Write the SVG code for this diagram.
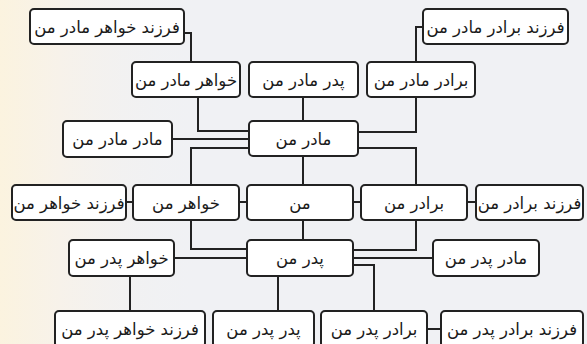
<svg xmlns="http://www.w3.org/2000/svg" width="587" height="344" viewBox="0 0 587 344">
<defs>
<linearGradient id="bgL" x1="0" y1="0" x2="1" y2="0">
<stop offset="0" stop-color="#fbf3df"/>
<stop offset="0.3" stop-color="#f7f2ea"/>
<stop offset="1" stop-color="#f0f1f4" stop-opacity="0"/>
</linearGradient>
<style>
.box{fill:#ffffff;stroke:#222222;stroke-width:2}
.lbl{font-family:"DejaVu Sans",sans-serif;font-size:16.5px;fill:#1a1a1a;text-anchor:middle}
.con{fill:none;stroke:#222222;stroke-width:2}
</style>
</defs>
<rect x="0" y="0" width="587" height="344" fill="#f0f1f4"/>
<rect x="0" y="0" width="200" height="344" fill="url(#bgL)"/>
<g id="connectors">
<path class="con" d="M184,33 H191 V62"/>
<path class="con" d="M198,97 V131 H249"/>
<path class="con" d="M303,97 V121"/>
<path class="con" d="M423,27 H416 V62"/>
<path class="con" d="M416,97 V132 H358"/>
<path class="con" d="M172,139 H249"/>
<path class="con" d="M249,148 H191 V185"/>
<path class="con" d="M358,148 H416 V185"/>
<path class="con" d="M303,156 V185"/>
<path class="con" d="M126,202 H133"/>
<path class="con" d="M239,202 H247"/>
<path class="con" d="M353,202 H361"/>
<path class="con" d="M467,202 H476"/>
<path class="con" d="M191,220 V249 H247"/>
<path class="con" d="M416,220 V250 H353"/>
<path class="con" d="M303,220 V240"/>
<path class="con" d="M174,258 H247"/>
<path class="con" d="M353,258 H433"/>
<path class="con" d="M353,265 H374 V311"/>
<path class="con" d="M130,276 V311"/>
<path class="con" d="M278,276 V311"/>
<path class="con" d="M427,329 H441"/>
</g>
<g id="n_fkhm"><rect class="box" x="30" y="9" width="154" height="35" rx="4"/><text class="lbl" x="107" y="32.5">فرزند خواهر مادر من</text></g>
<g id="n_fbm"><rect class="box" x="423" y="9" width="145" height="35" rx="4"/><text class="lbl" x="495.5" y="32.5">فرزند برادر مادر من</text></g>
<g id="n_khm"><rect class="box" x="132" y="62" width="108" height="35" rx="4"/><text class="lbl" x="186" y="85.5">خواهر مادر من</text></g>
<g id="n_pm"><rect class="box" x="249" y="62" width="109" height="35" rx="4"/><text class="lbl" x="303.5" y="85.5">پدر مادر من</text></g>
<g id="n_bm"><rect class="box" x="367" y="62" width="108" height="35" rx="4"/><text class="lbl" x="421" y="85.5">برادر مادر من</text></g>
<g id="n_mm"><rect class="box" x="63" y="121" width="109" height="36" rx="4"/><text class="lbl" x="117.5" y="145">مادر مادر من</text></g>
<g id="n_madar"><rect class="box" x="249" y="121" width="109" height="35" rx="4"/><text class="lbl" x="303.5" y="144.5">مادر من</text></g>
<g id="n_fkh"><rect class="box" x="12" y="185" width="114" height="35" rx="4"/><text class="lbl" x="69" y="208.5">فرزند خواهر من</text></g>
<g id="n_kh"><rect class="box" x="133" y="185" width="106" height="35" rx="4"/><text class="lbl" x="186" y="208.5">خواهر من</text></g>
<g id="n_man"><rect class="box" x="247" y="185" width="106" height="35" rx="4"/><text class="lbl" x="300" y="208.5">من</text></g>
<g id="n_bar"><rect class="box" x="361" y="185" width="106" height="35" rx="4"/><text class="lbl" x="414" y="208.5">برادر من</text></g>
<g id="n_fbar"><rect class="box" x="476" y="185" width="107" height="35" rx="4"/><text class="lbl" x="529.5" y="208.5">فرزند برادر من</text></g>
<g id="n_khp"><rect class="box" x="69" y="240" width="105" height="36" rx="4"/><text class="lbl" x="121.5" y="264">خواهر پدر من</text></g>
<g id="n_pedar"><rect class="box" x="247" y="240" width="106" height="36" rx="4"/><text class="lbl" x="300" y="264">پدر من</text></g>
<g id="n_mp"><rect class="box" x="433" y="240" width="106" height="36" rx="4"/><text class="lbl" x="486" y="264">مادر پدر من</text></g>
<g id="n_fkhp"><rect class="box" x="55" y="311" width="150" height="36" rx="4"/><text class="lbl" x="130" y="335">فرزند خواهر پدر من</text></g>
<g id="n_pp"><rect class="box" x="213" y="311" width="101" height="36" rx="4"/><text class="lbl" x="263.5" y="335">پدر پدر من</text></g>
<g id="n_bp"><rect class="box" x="321" y="311" width="106" height="36" rx="4"/><text class="lbl" x="374" y="335">برادر پدر من</text></g>
<g id="n_fbp"><rect class="box" x="441" y="311" width="142" height="36" rx="4"/><text class="lbl" x="512" y="335">فرزند برادر پدر من</text></g>
</svg>
